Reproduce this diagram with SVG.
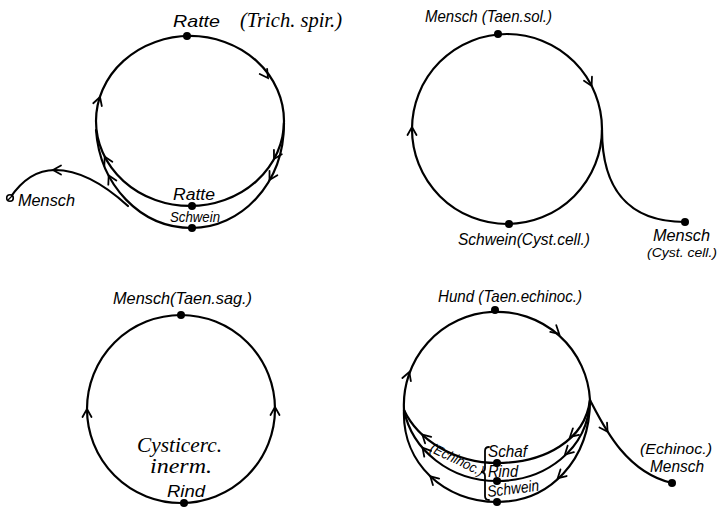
<svg xmlns="http://www.w3.org/2000/svg" width="721" height="507" viewBox="0 0 721 507">
<style>
.c{fill:none;stroke:#000;stroke-width:2.2;stroke-linecap:round}
.a{fill:none;stroke:#000;stroke-width:1.8;stroke-linecap:round;stroke-linejoin:miter}
.d{fill:#000}
.h{font-family:"Liberation Sans","DejaVu Sans",sans-serif;font-style:italic;fill:#000}
.s{font-family:"Liberation Serif","DejaVu Serif",serif;font-style:italic;fill:#000}
</style>
<defs>
<path id="chev" class="a" d="M-8,-4.5 L0,0 L-8,4.5"/>
</defs>
<rect width="721" height="507" fill="#fff"/>

<g id="connectors">
  <!-- top-left: Trichinella -->
  <path class="c" d="M96,121 A94,85 0 1 1 284,121 A94,85 0 0 1 96,121"/>
  <path class="c" d="M284,123 C284,185 240,228 192,228 C140,228 100,185 96,130"/>
  <path class="c" d="M10,198 C22,180 38,170 55,170 C80,170 105,185 128,206"/>
  <use href="#chev" transform="translate(268,78) rotate(55)"/>
  <use href="#chev" transform="translate(100,97) rotate(-72)"/>
  <use href="#chev" transform="translate(274,159) rotate(119)"/>
  <use href="#chev" transform="translate(269.5,180) rotate(119.5)"/>
  <use href="#chev" transform="translate(104.7,156.7) rotate(-117)"/>
  <use href="#chev" transform="translate(108.7,175.5) rotate(-117)"/>
  <use href="#chev" transform="translate(53,170) rotate(180)"/>

  <!-- top-right: Taenia solium -->
  <circle class="c" cx="507" cy="129" r="95"/>
  <path class="c" d="M602,130 C602,185 625,222 685,222"/>
  <use href="#chev" transform="translate(591.6,85.9) rotate(63)"/>
  <use href="#chev" transform="translate(412,127) rotate(-90)"/>

  <!-- bottom-left: Taenia saginata -->
  <circle class="c" cx="181" cy="409" r="94"/>
  <use href="#chev" transform="translate(87,409) rotate(-90)"/>
  <use href="#chev" transform="translate(275,407) rotate(-90)"/>

  <!-- bottom-right: Taenia echinococcus -->
  <path class="c" d="M404,410 A93,93 0 1 1 590,400"/>
  <path class="c" d="M590,400 C585,440 545,463 497,463 C455,463 418,440 404,410"/>
  <path class="c" d="M590,400 C588,450 545,481 497,481 C450,481 412,450 404,410"/>
  <path class="c" d="M590,400 C590,460 550,502 497,502 C445,502 402,464 404,410"/>
  <path class="c" d="M590,400 C603,425 625,472 672,483"/>
  <use href="#chev" transform="translate(559.2,333.9) rotate(42)"/>
  <use href="#chev" transform="translate(409.3,372) rotate(-70.5)"/>
  <use href="#chev" transform="translate(570,437) rotate(138)"/>
  <use href="#chev" transform="translate(565,454.5) rotate(136)"/>
  <use href="#chev" transform="translate(557.7,478.2) rotate(137)"/>
  <use href="#chev" transform="translate(422.3,434.6) rotate(-137)"/>
  <use href="#chev" transform="translate(422.5,447.7) rotate(-130.5)"/>
  <use href="#chev" transform="translate(430.3,476.3) rotate(-136)"/>
  <use href="#chev" transform="translate(607.6,431.8) rotate(57)"/>
  <path class="a" d="M489,447 Q485,447 485,451 L485,468 Q485,472 481,472 Q485,472 485,476 L485,496 Q485,500 489,500"/>
</g>

<!-- top-left nodes -->
<g id="tl-ratte-top">
  <circle class="d" cx="187" cy="36" r="4"/>
  <text class="h" x="173" y="27" font-size="17" textLength="47" lengthAdjust="spacingAndGlyphs">Ratte</text>
  <text class="s" x="240" y="27" font-size="20" textLength="102" lengthAdjust="spacingAndGlyphs">(Trich. spir.)</text>
</g>
<g id="tl-ratte-bottom">
  <circle class="d" cx="192" cy="206" r="4"/>
  <text class="h" x="173" y="200" font-size="16" textLength="42" lengthAdjust="spacingAndGlyphs">Ratte</text>
</g>
<g id="tl-schwein">
  <circle class="d" cx="192" cy="228" r="4"/>
  <text class="h" x="170" y="222" font-size="15" textLength="50" lengthAdjust="spacingAndGlyphs">Schwein</text>
</g>
<g id="tl-mensch">
  <circle cx="10" cy="198" r="3.3" fill="#fff" stroke="#000" stroke-width="1.6"/>
  <path d="M8,200 L12,196" stroke="#000" stroke-width="1.2"/>
  <text class="h" x="18" y="206" font-size="16" textLength="57" lengthAdjust="spacingAndGlyphs">Mensch</text>
</g>

<!-- top-right nodes -->
<g id="tr-mensch-top">
  <circle class="d" cx="498" cy="34" r="4"/>
  <text class="h" x="425" y="22" font-size="17" textLength="127" lengthAdjust="spacingAndGlyphs">Mensch (Taen.sol.)</text>
</g>
<g id="tr-schwein">
  <circle class="d" cx="509" cy="224" r="4"/>
  <text class="h" x="458" y="245" font-size="17" textLength="132" lengthAdjust="spacingAndGlyphs">Schwein(Cyst.cell.)</text>
</g>
<g id="tr-mensch-tail">
  <circle class="d" cx="685" cy="222" r="4"/>
  <text class="h" x="653" y="241" font-size="16" textLength="57" lengthAdjust="spacingAndGlyphs">Mensch</text>
  <text class="h" x="647" y="257" font-size="13" textLength="70" lengthAdjust="spacingAndGlyphs">(Cyst. cell.)</text>
</g>

<!-- bottom-left nodes -->
<g id="bl-mensch">
  <circle class="d" cx="181" cy="315" r="4"/>
  <text class="h" x="113" y="304" font-size="17" textLength="139" lengthAdjust="spacingAndGlyphs">Mensch(Taen.sag.)</text>
</g>
<g id="bl-rind">
  <circle class="d" cx="184" cy="503" r="4"/>
  <text class="s" x="137" y="452" font-size="20" textLength="85" lengthAdjust="spacingAndGlyphs">Cysticerc.</text>
  <text class="s" x="150" y="473" font-size="20" textLength="62" lengthAdjust="spacingAndGlyphs">inerm.</text>
  <text class="h" x="167" y="497" font-size="16" textLength="38" lengthAdjust="spacingAndGlyphs">Rind</text>
</g>

<!-- bottom-right nodes -->
<g id="br-hund">
  <circle class="d" cx="495" cy="310" r="4"/>
  <text class="h" x="438" y="302" font-size="17" textLength="144" lengthAdjust="spacingAndGlyphs">Hund (Taen.echinoc.)</text>
</g>
<g id="br-schaf">
  <circle class="d" cx="497" cy="463" r="4"/>
  <text class="h" x="488" y="457" font-size="16" textLength="39" lengthAdjust="spacingAndGlyphs">Schaf</text>
</g>
<g id="br-rind">
  <circle class="d" cx="497" cy="481" r="4"/>
  <text class="h" x="488" y="477" font-size="16" textLength="30" lengthAdjust="spacingAndGlyphs">Rind</text>
  <text class="h" font-size="14" textLength="58" lengthAdjust="spacingAndGlyphs" transform="translate(429,451) rotate(26)">(Echinoc.)</text>
</g>
<g id="br-schwein">
  <circle class="d" cx="497" cy="502" r="4"/>
  <text class="h" x="488" y="497" font-size="16" textLength="52" lengthAdjust="spacingAndGlyphs" transform="rotate(-7 488 497)">Schwein</text>
</g>
<g id="br-mensch">
  <circle class="d" cx="672" cy="483" r="4"/>
  <text class="h" x="640" y="454" font-size="15" textLength="72" lengthAdjust="spacingAndGlyphs">(Echinoc.)</text>
  <text class="h" x="650" y="472" font-size="16" textLength="54" lengthAdjust="spacingAndGlyphs">Mensch</text>
</g>
</svg>
